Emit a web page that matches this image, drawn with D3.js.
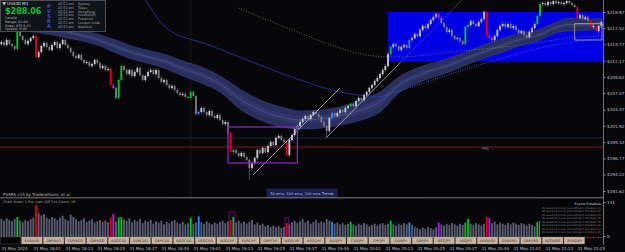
<!DOCTYPE html>
<html>
<head>
<meta charset="utf-8">
<script src="https://cdn.jsdelivr.net/npm/d3@7"></script>
<style>
  body { margin: 0; background: #07070a; }
  svg { display: block; font-family: "DejaVu Sans", sans-serif; }
</style>
</head>
<body>
<div id="chart"></div>
<script>
// ---- data (M1 candles, 31 May 2024 17:49 -> 21:35) ----
const firstOpen = 214.80;
const closes = [
  215.13,214.66,215.45,214.82,214.50,214.03,216.71,216.08,215.45,214.82,
  215.29,215.76,216.08,212.77,213.55,214.50,214.97,214.34,213.87,214.66,
  215.13,214.19,214.82,215.45,214.66,214.19,213.55,212.92,212.61,213.08,
  212.29,211.82,211.98,211.35,211.66,212.29,211.82,211.03,211.35,210.71,
  210.87,208.35,207.87,206.30,209.14,211.35,210.71,210.08,210.71,209.77,
  210.40,211.03,209.92,209.14,209.77,210.40,210.71,210.08,210.71,209.45,
  208.82,209.14,208.35,207.87,208.19,207.56,207.08,206.77,206.93,206.45,
  206.30,207.24,206.61,203.77,204.09,204.72,204.09,203.61,204.24,203.46,
  203.14,203.61,202.82,202.19,202.51,200.77,197.77,198.09,197.62,197.14,
  197.62,196.99,196.51,195.25,196.04,196.83,198.09,197.62,198.41,197.77,
  198.72,199.35,198.88,199.98,200.30,199.67,199.35,197.30,199.67,200.46,
  201.40,201.88,202.51,202.98,203.46,202.98,203.61,204.09,203.77,203.30,
  202.51,201.88,201.09,203.14,203.93,203.46,203.93,204.40,204.09,204.72,
  205.03,205.35,205.03,205.82,206.30,205.98,206.77,207.24,207.87,208.35,
  208.98,209.45,210.08,210.71,211.35,213.24,214.34,214.82,214.50,213.87,
  214.34,214.66,214.19,215.45,215.76,216.39,216.08,217.03,217.66,217.34,
  217.97,218.60,219.08,219.55,218.92,218.13,217.50,216.71,217.03,216.08,
  215.61,215.76,215.29,214.82,217.50,217.81,218.45,217.97,217.66,218.29,
  218.76,219.87,216.08,215.76,215.45,216.08,217.03,217.66,217.97,217.50,
  217.97,217.34,217.66,217.03,216.55,216.87,216.24,215.92,216.71,217.34,
  217.97,219.24,221.13,221.29,220.97,221.44,221.13,221.60,221.29,221.44,
  221.13,221.29,221.60,221.29,220.97,220.66,218.92,219.39,218.76,219.08,
  218.45,217.50,217.66,216.87,217.66,218.29
];
const volumes = [
  55,50,58,52,48,56,62,50,45,52, 48,55,60,101,75,68,72,60,55,62,
  58,52,60,66,55,50,70,62,55,48, 52,58,46,50,55,44,48,52,46,50,
  45,60,72,48,60,62,55,50,58,45, 52,48,56,42,50,46,53,40,48,44,
  50,38,46,42,48,52,44,40,46,38, 42,60,40,44,64,45,40,48,42,38,
  44,40,46,50,42,48,52,62,45,50, 42,48,40,46,52,38,44,36,40,32,
  36,30,34,28,32,26,30,42,38,45, 50,42,48,55,44,50,40,46,52,42,
  48,44,55,50,46,40,44,38,42,36, 40,46,38,34,40,36,42,38,32,36,
  40,34,38,42,36,40,50,38,34,40, 36,42,38,44,36,30,26,22,28,24,
  30,26,22,28,44,38,34,40,36,42, 38,34,40,36,44,56,40,36,42,38,
  34,40,62,58,42,46,38,44,40,36, 42,38,44,40,36,42,38,34,40,36,
  32,46,50,38,42,36,40,34,38,42, 36,40,34,38,42,36,48,40,36,42,
  38,44,40,46,36,40
];
// PVSRA candle classes (candle indices)
const climaxUp = [6,44,45,71,87,131,146,174,175,201,202];
const climaxDown = [13,41,86,107,182,216,221,223];
const risingUp = [74,124,153];
const risingDown = [42,164,183];
const longLows = { 93: 193.40, 122: 199.98 };

// moving-average ribbon
const bandIdx = [0,25,37,43,50,56,62,68,75,82,90,97,105,112,120,127,135,142,149,157,168,179,187,195,202,209,213,221,225];
const bandTop = [219.55,217.66,216.24,215.45,214.34,213.71,213.08,212.13,211.19,209.77,207.56,205.98,204.87,204.24,204.40,204.87,205.98,207.24,209.61,211.19,212.61,214.34,215.60,216.55,217.18,218.45,218.92,218.76,218.92];
const bandBot = [217.34,215.76,214.50,213.40,212.29,211.66,210.87,209.77,208.66,207.24,204.40,202.82,201.72,201.40,201.56,202.04,202.82,204.09,207.08,208.82,210.40,212.29,213.40,214.66,215.45,216.71,216.87,217.03,217.50];
// slow SMA (blue) and mid SMA (khaki dotted)
const slowIdx = [54,62,78,97,112,127,142,157,183,202,225];
const slowVals = [221.76,217.34,214.66,211.50,209.14,207.24,206.45,208.50,211.98,214.19,215.76];
const midIdx = [89,112,127,140,149,168,195,213,225];
const midVals = [220.50,216.55,214.19,212.92,212.77,213.55,214.66,215.76,216.08];

// zones, trend lines, levels
const zoneBlue = { i0: 145, i1: 227, top: 219.87, bottom: 212.13 };
const zonePurple = { i0: 85, i1: 111, top: 201.72, bottom: 196.04 };
const zoneGray = { i0: 215, i1: 227, top: 218.03, bottom: 215.45 };
const volBoxes = [[86, 87], [107, 107]];
const trendSolid = [[94.4, 194.15, 127, 207.87], [122.1, 200.14, 149.5, 211.82]];
const trendDotted = [[149.5, 211.82, 172.7, 221.76]];
const levels = [199.98, 198.56];
const separators = [71];

const priceTicks = [219.87,217.32,214.77,212.17,209.62,207.07,204.47,201.92,199.32,196.77,194.22,191.62];
const timeTicks = ["17:49","18:01","18:13","18:25","18:37","18:49","19:01","19:13","19:25","19:37",
                   "19:49","20:01","20:13","20:25","20:37","20:49","21:01","21:13","21:25"];
const pairs = ["EURAUD","GBPAUD","EURNZD","GBPNZD","AUDCAD","EURCAD","GBPCAD","NZDCAD","USDCAD",
               "AUDCHF","EURCHF","GBPCHF","NZDCHF","USDCHF","AUDJPY","CADJPY","CHFJPY","EURJPY",
               "GBPJPY","NZDJPY","USDJPY","AUDUSD","EURUSD","GBPUSD","NZDUSD","EURGBP"];
const cities = ["Sydney","Tokyo","HongKong","Helsinki(B)","Frankfurt","London (LGA)","NewYork"];
const infoLines = ["Candle","Range: 41.88","Snap: 475  0.21","Spread: 0.00"];

// ---- setup ----
const W = 625, H = 252, plotR = 603, mainB = 197;

const svg = d3.select("#chart").append("svg").attr("width", W).attr("height", H);
svg.append("rect").attr("width", W).attr("height", H).attr("fill", "#07070a");
svg.append("defs").append("clipPath").attr("id", "clipMain")
  .append("rect").attr("width", plotR).attr("height", mainB);

const t0 = new Date(2024, 4, 31, 17, 49);
const x = d3.scaleTime().domain([t0, d3.timeMinute.offset(t0, 226)]).range([0, 602.7]);
const xi = i => x(new Date(+t0 + (i + 0.5) * 60000));
const y = d3.scaleLinear().domain([219.87, 191.62]).range([12, 191]);
const yv = d3.scaleLinear().domain([0, 111]).range([236, 202]);

const kindOf = i => climaxUp.includes(i) ? "cu" : climaxDown.includes(i) ? "cd"
  : risingUp.includes(i) ? "ru" : risingDown.includes(i) ? "rd" : null;
const kindColor = { cu: "#00cc22", cd: "#e8000e", ru: "#2b8cff", rd: "#b41cff" };

const candles = closes.map((c, i) => ({
  i, c, o: i ? closes[i - 1] : firstOpen, v: volumes[i], kind: kindOf(i)
}));

const main = svg.append("g").attr("clip-path", "url(#clipMain)");

// blue zone
main.append("rect")
  .attr("x", xi(zoneBlue.i0)).attr("y", y(zoneBlue.top))
  .attr("width", xi(zoneBlue.i1) - xi(zoneBlue.i0))
  .attr("height", y(zoneBlue.bottom) - y(zoneBlue.top))
  .attr("fill", "#0000e4");

// vertical separator
main.selectAll(".sep").data(separators).join("line")
  .attr("x1", d => xi(d)).attr("x2", d => xi(d)).attr("y1", 0).attr("y2", mainB)
  .attr("stroke", "#3a3a44").attr("stroke-width", 0.6).attr("stroke-dasharray", "1,1");

// horizontal levels
main.selectAll(".lvl").data(levels).join("line")
  .attr("x1", 0).attr("x2", plotR).attr("y1", d => y(d)).attr("y2", d => y(d))
  .attr("stroke", (d, k) => k ? "#861c1c" : "#1c3147").attr("stroke-width", 0.9);

// ribbon
const band = bandIdx.map((d, k) => ({ i: d, t: bandTop[k], b: bandBot[k] }));
const area = (f0, f1) => d3.area().x(d => xi(d.i)).y0(f0).y1(f1).curve(d3.curveMonotoneX);
main.append("path").datum(band)
  .attr("d", area(d => y(d.b), d => y(d.t)))
  .attr("fill", "#282e5e").attr("stroke", "#3a4282").attr("stroke-width", 0.6);
main.append("path").datum(band)
  .attr("d", area(d => y(d.b + (d.t - d.b) * 0.3), d => y(d.t - (d.t - d.b) * 0.3)))
  .attr("fill", "#2f3668");
main.append("path").datum(band)
  .attr("d", d3.line().x(d => xi(d.i)).y(d => y((d.t + d.b) / 2)).curve(d3.curveMonotoneX))
  .attr("fill", "none").attr("stroke", "#5c659e").attr("stroke-width", 0.5);

// SMA lines
const slow = slowIdx.map((d, k) => ({ i: d, p: slowVals[k] }));
const mid = midIdx.map((d, k) => ({ i: d, p: midVals[k] }));
const sLine = d3.line().x(d => xi(d.i)).y(d => y(d.p)).curve(d3.curveMonotoneX);
main.append("path").datum(slow.filter(d => d.i <= 142)).attr("d", sLine)
  .attr("fill", "none").attr("stroke", "#2636b8").attr("stroke-width", 0.8);
main.append("path").datum(slow.filter(d => d.i >= 142)).attr("d", sLine)
  .attr("fill", "none").attr("stroke", "#4f6cff").attr("stroke-width", 0.8)
  .attr("stroke-dasharray", "1,1.4");
main.append("path").datum(mid).attr("d", sLine)
  .attr("fill", "none").attr("stroke", "#8e876f").attr("stroke-width", 0.7)
  .attr("stroke-dasharray", "1,1.6");

// candles
const cg = main.append("g");
const colorOf = d => d.kind ? kindColor[d.kind] : (d.c >= d.o ? "#c9c9d3" : "#7b7b88");
cg.selectAll(".wick").data(candles).join("line")
  .attr("x1", d => xi(d.i)).attr("x2", d => xi(d.i))
  .attr("y1", d => y(Math.max(d.o, d.c)) - 1.5)
  .attr("y2", d => longLows[d.i] ? y(longLows[d.i]) : y(Math.min(d.o, d.c)) + 1.5)
  .attr("stroke", colorOf).attr("stroke-width", 0.6);
cg.selectAll(".body").data(candles).join("rect")
  .attr("x", d => xi(d.i) - 0.9).attr("width", 1.8)
  .attr("y", d => y(Math.max(d.o, d.c)))
  .attr("height", d => Math.max(0.8, Math.abs(y(d.o) - y(d.c))))
  .attr("fill", colorOf);

// trend lines
main.selectAll(".tl").data(trendSolid).join("line")
  .attr("x1", d => xi(d[0])).attr("y1", d => y(d[1])).attr("x2", d => xi(d[2])).attr("y2", d => y(d[3]))
  .attr("stroke", "#cfcfd6").attr("stroke-width", 0.7);
main.selectAll(".td").data(trendDotted).join("line")
  .attr("x1", d => xi(d[0])).attr("y1", d => y(d[1])).attr("x2", d => xi(d[2])).attr("y2", d => y(d[3]))
  .attr("stroke", "#8fa0ff").attr("stroke-width", 0.7).attr("stroke-dasharray", "1,1.4");

// purple and gray boxes
[[zonePurple, "#8e1fc2", 1.3], [zoneGray, "#b9a886", 0.8]].forEach(([z, col, w]) => {
  main.append("rect")
    .attr("x", xi(z.i0)).attr("y", y(z.top))
    .attr("width", Math.min(plotR - 1, xi(z.i1)) - xi(z.i0))
    .attr("height", y(z.bottom) - y(z.top))
    .attr("fill", "none").attr("stroke", col).attr("stroke-width", w);
});

main.append("text").attr("x", 482).attr("y", y(levels[1]) + 2.6)
  .attr("font-size", 3.8).attr("fill", "#8a8a8a").text("PML —");

// SMA legend box
svg.append("rect").attr("x", 267).attr("y", 189).attr("width", 70).attr("height", 8)
  .attr("fill", "#1a1f4e").attr("stroke", "#2c3478").attr("stroke-width", 0.5);
svg.append("text").attr("x", 302).attr("y", 194.6).attr("text-anchor", "middle")
  .attr("font-size", 3.7).attr("fill", "#b4bce8").text("50 sma, 100 sma, 200 sma Trends");

svg.append("text").attr("x", 3).attr("y", 195.5).attr("font-size", 4)
  .attr("fill", "#bdbdbd").text("PVSRA v14 by Traderathons, et al.");

// ---- info panel ----
svg.append("rect").attr("x", 0.5).attr("y", 0.5).attr("width", 105).attr("height", 31)
  .attr("fill", "#0f141b").attr("stroke", "#5c5c62").attr("stroke-width", 0.8);
svg.append("text").attr("x", 2.5).attr("y", 5).attr("font-size", 4.2).attr("fill", "#e0e0e0").text("▼ US500 M1");
svg.append("text").attr("x", 5).attr("y", 14.3).attr("font-size", 8).attr("font-weight", "bold")
  .attr("fill", "#18c23a").text("$288.06");
svg.selectAll(".info").data(infoLines).join("text")
  .attr("x", 5).attr("y", (d, k) => 19 + k * 3.8).attr("font-size", 3.4).attr("fill", "#b8b8b8").text(d => d);
svg.selectAll(".pv").data("PVSRA".split("")).join("text")
  .attr("x", 49).attr("y", (d, k) => 8 + k * 5).attr("text-anchor", "middle")
  .attr("font-size", 5).attr("font-weight", "bold").attr("fill", "#3c46e6").text(d => d);
svg.selectAll(".tm").data(cities).join("text")
  .attr("x", 58).attr("y", (d, k) => 5 + k * 3.8).attr("font-size", 3.3).attr("fill", "#a7a7a7")
  .text("05:53 am");
svg.selectAll(".city").data(cities).join("text")
  .attr("x", 78).attr("y", (d, k) => 5 + k * 3.8).attr("font-size", 3.3).attr("fill", "#a7a7a7")
  .text(d => d);

// ---- indicator pane ----
svg.append("line").attr("x1", 0).attr("x2", plotR).attr("y1", 197.8).attr("y2", 197.8)
  .attr("stroke", "#8c8c8c").attr("stroke-width", 0.9);
svg.append("text").attr("x", 3).attr("y", 203.3).attr("font-size", 3.4).attr("fill", "#a9a9a9")
  .text("Chart Scale: 1    Pvt. Last: Off    Tick Count: 16");

svg.append("g").selectAll("rect").data(candles).join("rect")
  .attr("x", d => xi(d.i) - 0.9).attr("width", 1.8)
  .attr("y", d => yv(d.v)).attr("height", d => 238 - yv(d.v))
  .attr("fill", d => d.kind ? kindColor[d.kind] : "#5d6175");

svg.selectAll(".vb").data(volBoxes).join("rect")
  .attr("x", d => xi(d[0]) - 1.6).attr("width", d => xi(d[1]) - xi(d[0]) + 3.2)
  .attr("y", d => yv(d3.max(volumes.slice(d[0], d[1] + 1))) - 5)
  .attr("height", d => 236 - yv(d3.max(volumes.slice(d[0], d[1] + 1))) + 5)
  .attr("fill", "none").attr("stroke", "#6a1a8e").attr("stroke-width", 0.8);

// events schedule
svg.append("rect").attr("x", 540).attr("y", 199).attr("width", 63).attr("height", 38).attr("fill", "#050507");
svg.append("text").attr("x", 601).attr("y", 204.5).attr("text-anchor", "end")
  .attr("font-size", 3.2).attr("fill", "#dedede").text("Events Schedule");
svg.selectAll(".ev").data(d3.range(1, 9)).join("text")
  .attr("x", 542).attr("y", d => 205.5 + d * 3.45).attr("font-size", 2.7).attr("fill", "#878787")
  .attr("textLength", 59).attr("lengthAdjust", "spacingAndGlyphs")
  .text(d => `We would not receive your settings in scheduled.  (${d})`);

// ---- axes ----
svg.append("line").attr("x1", plotR + 0.5).attr("x2", plotR + 0.5).attr("y1", 0).attr("y2", 245)
  .attr("stroke", "#8e8e8e").attr("stroke-width", 0.8);

const yAxis = svg.append("g").attr("transform", `translate(${plotR + 0.5},0)`)
  .call(d3.axisRight(y).tickValues(priceTicks).tickSize(2).tickFormat(d => "$" + d.toFixed(2)));
yAxis.select(".domain").remove();
yAxis.selectAll("line").attr("stroke", "#8e8e8e");
yAxis.selectAll("text").attr("x", 3.5).attr("font-size", 4.2).attr("fill", "#c4c4c4")
  .attr("font-family", "DejaVu Sans");

const vAxis = svg.append("g").attr("transform", `translate(${plotR + 0.5},0)`)
  .call(d3.axisRight(yv).tickValues([0, 111]).tickSize(2).tickFormat(d3.format("d")));
vAxis.select(".domain").remove();
vAxis.selectAll("line").attr("stroke", "#8e8e8e");
vAxis.selectAll("text").attr("x", 3.5).attr("font-size", 4.2).attr("fill", "#c4c4c4")
  .attr("font-family", "DejaVu Sans");

// pair buttons
svg.append("rect").attr("x", 0.5).attr("y", 237).attr("width", 20).attr("height", 7)
  .attr("fill", "#000").attr("stroke", "#4a4a4a").attr("stroke-width", 0.5);
const bw = 21.7;
const btn = svg.selectAll(".btn").data(pairs).join("g")
  .attr("transform", (d, k) => `translate(${21.5 + k * bw},237)`);
btn.append("rect").attr("width", bw - 1).attr("height", 7)
  .attr("fill", "#c7b4a3").attr("stroke", "#8d7c6e").attr("stroke-width", 0.4);
btn.append("text").attr("x", (bw - 1) / 2).attr("y", 4.9).attr("text-anchor", "middle")
  .attr("font-size", 3.5).attr("fill", "#2b2b2b").text(d => d);

// time axis
const tickDates = timeTicks.map(s => {
  const [h, m] = s.split(":").map(Number);
  return new Date(2024, 4, 31, h, m);
});
const xAxis = svg.append("g").attr("transform", "translate(0,245)")
  .call(d3.axisBottom(x).tickValues(tickDates).tickSize(0)
    .tickFormat((d, k) => k === 0 ? "31 May 2024" : "31 May " + d3.timeFormat("%H:%M")(d)));
xAxis.select(".domain").remove();
xAxis.selectAll("text").attr("y", 4.5).attr("dy", 0).attr("text-anchor", "start").attr("dx", 1)
  .attr("font-size", 4).attr("fill", "#c4c4c4").attr("font-family", "DejaVu Sans");
</script>
</body>
</html>
